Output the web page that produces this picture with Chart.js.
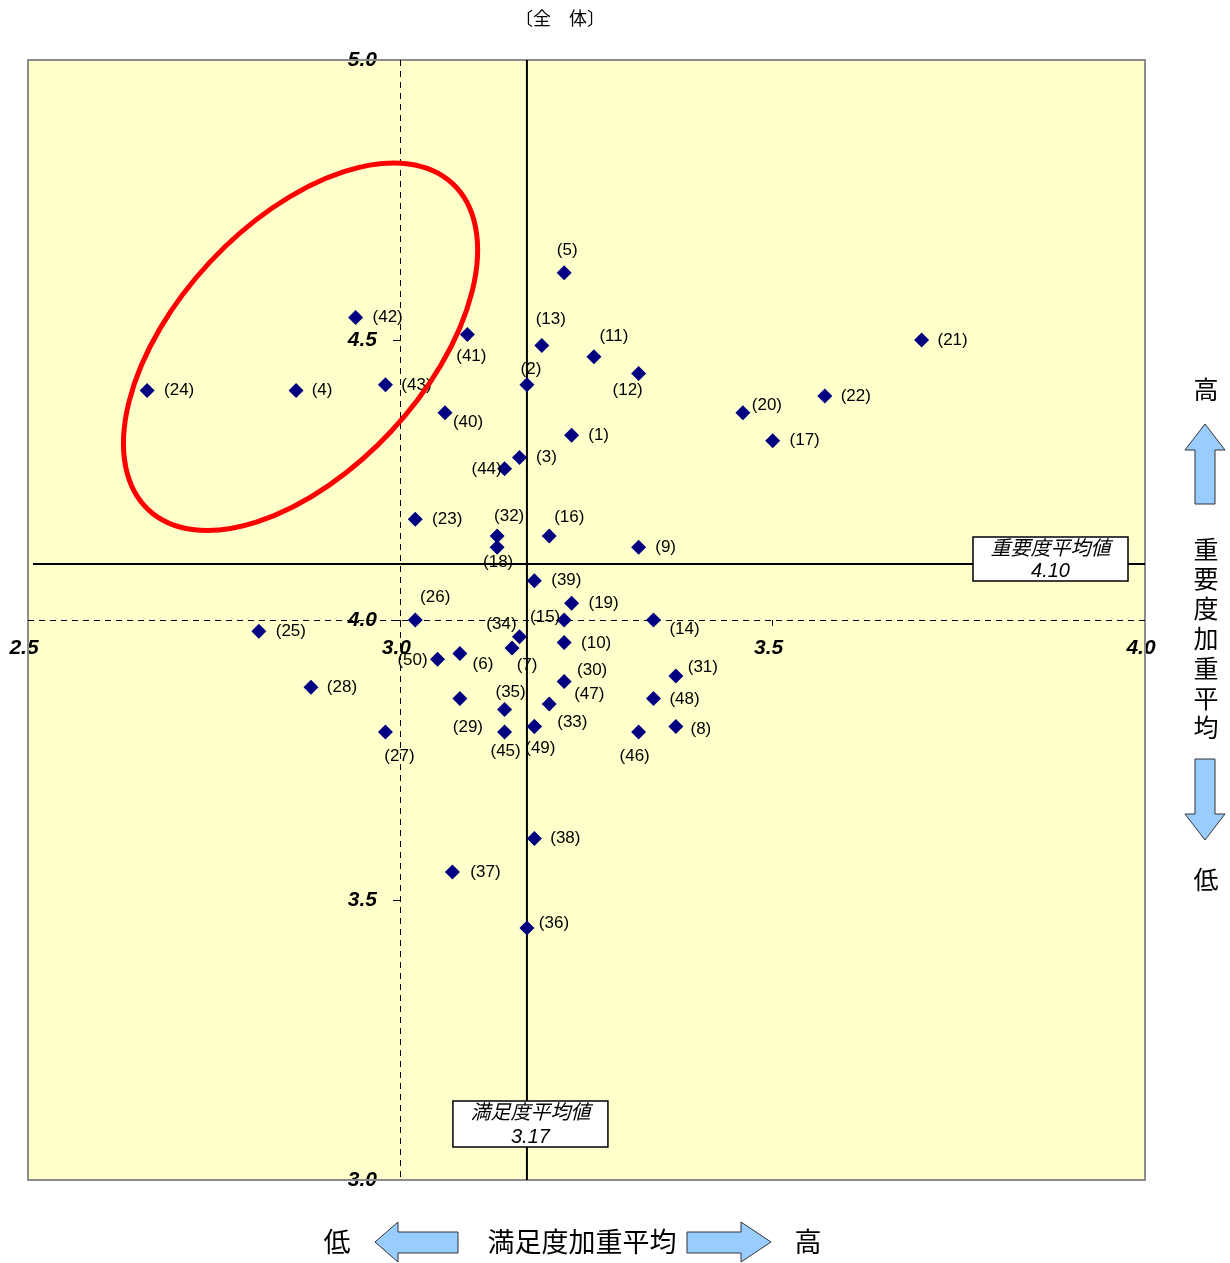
<!DOCTYPE html>
<html lang="ja">
<head>
<meta charset="utf-8">
<title>全体</title>
<script src="https://cdn.jsdelivr.net/npm/chart.js@4.4.1/dist/chart.umd.min.js"></script>
<style>
html,body{margin:0;padding:0;background:#fff;}
#wrap{position:relative;width:1230px;height:1263px;}
</style>
</head>
<body>
<div id="wrap"><canvas id="chart" width="1230" height="1263"></canvas></div>
<script>
/* =========================
   DATA
========================= */

const itemNo = [1,2,3,4,5,6,7,8,9,10,11,12,13,14,15,16,17,18,19,20,21,22,23,24,25,
                26,27,28,29,30,31,32,33,34,35,36,37,38,39,40,41,42,43,44,45,46,47,48,49,50];

// 満足度加重平均 (x)
const satisfaction = [3.23,3.17,3.16,2.86,3.22,3.08,3.15,3.37,3.32,3.22,
                      3.26,3.32,3.19,3.34,3.22,3.20,3.50,3.13,3.23,3.46,
                      3.70,3.57,3.02,2.66,2.81,3.02,2.98,2.88,3.08,3.22,
                      3.37,3.13,3.18,3.16,3.14,3.17,3.07,3.18,3.18,3.06,
                      3.09,2.94,2.98,3.14,3.14,3.32,3.20,3.34,3.18,3.05];

// 重要度加重平均 (y)
const importance = [4.33,4.42,4.29,4.41,4.62,3.94,3.95,3.81,4.13,3.96,
                    4.47,4.44,4.49,4.00,4.00,4.15,4.32,4.13,4.03,4.37,
                    4.50,4.40,4.18,4.41,3.98,4.00,3.80,3.88,3.86,3.89,
                    3.90,4.15,3.81,3.97,3.84,3.45,3.55,3.61,4.07,4.37,
                    4.51,4.54,4.42,4.27,3.80,3.80,3.85,3.86,3.81,3.93];

const xTickValues = [2.5, 3.0, 3.5, 4.0];
const yTickValues = [3.0, 3.5, 4.0, 4.5, 5.0];

// axes cross here
const xCross = 3.0;
const yCross = 4.0;

const satisfactionMean = 3.17;
const importanceMean = 4.10;

/* =========================
   LAYOUT (label nudges, px)
========================= */

const labelNudge = {
    1:[27,0], 2:[4,-15], 3:[27,0], 4:[26,0], 5:[3,-22], 6:[23,11], 7:[15,17], 8:[25,3],
    9:[27,0], 10:[32,1], 11:[20,-20], 12:[-11,17], 13:[9,-26], 14:[31,9], 15:[-19,-3],
    16:[20,-19], 17:[32,0], 18:[1,15], 19:[32,0], 20:[24,-7], 21:[31,0], 22:[31,0],
    23:[32,0], 24:[32,0], 25:[32,0], 26:[20,-23], 27:[14,24], 28:[31,0], 29:[8,29],
    30:[28,-11], 31:[27,-9], 32:[12,-20], 33:[38,-4], 34:[-18,-12], 35:[6,-17],
    36:[27,-5], 37:[33,0], 38:[31,0], 39:[32,0], 40:[23,10], 41:[4,22], 42:[32,0],
    43:[31,1], 44:[-18,1], 45:[1,19], 46:[-4,24], 47:[40,-10], 48:[31,1], 49:[6,22],
    50:[-25,1]
};

const JP = '"Noto Sans CJK JP", sans-serif';
const LAT = '"Liberation Sans", Arial, "Noto Sans CJK JP", sans-serif';

/* =========================
   HELPERS
========================= */

function blockArrow(ctx, pts){
    ctx.beginPath();
    pts.forEach((p,i)=>{ i ? ctx.lineTo(p[0],p[1]) : ctx.moveTo(p[0],p[1]); });
    ctx.closePath();
    ctx.fillStyle = "#99CCFF";
    ctx.fill();
    ctx.strokeStyle = "#333333";
    ctx.lineWidth = 1;
    ctx.stroke();
}

function meanBox(ctx, left, top, w, h, title, value){
    ctx.fillStyle = "#ffffff";
    ctx.fillRect(left, top, w, h);
    ctx.strokeStyle = "#000000";
    ctx.lineWidth = 1.5;
    ctx.strokeRect(left, top, w, h);
    ctx.fillStyle = "#000000";
    ctx.textAlign = "center";
    ctx.textBaseline = "middle";
    ctx.font = "italic 20px " + LAT;
    ctx.fillText(title, left + w/2, top + 12);
    ctx.fillText(value, left + w/2, top + h - 10);
}

/* =========================
   PLUGIN
========================= */

const quadrantPlugin = {
    id: "quadrant",
    beforeDraw(chart){
        const {ctx, chartArea:a} = chart;
        ctx.save();
        ctx.fillStyle = "#FFFFCC";
        ctx.fillRect(a.left, a.top, a.right - a.left, a.bottom - a.top);
        ctx.restore();
    },
    beforeDatasetsDraw(chart){
        const {ctx, chartArea:a, scales} = chart;
        ctx.save();
        // plot frame
        ctx.strokeStyle = "#8c8c8c";
        ctx.lineWidth = 2;
        ctx.strokeRect(a.left, a.top, a.right - a.left, a.bottom - a.top);

        // dashed axis lines where the axes cross
        const ax = Math.round(scales.x.getPixelForValue(xCross)) + 0.5;
        const ay = Math.round(scales.y.getPixelForValue(yCross)) + 0.5;
        ctx.strokeStyle = "#000000";
        ctx.lineWidth = 1;
        ctx.setLineDash([6,5]);
        ctx.beginPath();
        ctx.moveTo(ax, a.top); ctx.lineTo(ax, a.bottom);
        ctx.moveTo(a.left, ay); ctx.lineTo(a.right, ay);
        ctx.stroke();
        ctx.setLineDash([]);

        // mean lines
        ctx.lineWidth = 2;
        const mx = scales.x.getPixelForValue(satisfactionMean);
        const my = scales.y.getPixelForValue(importanceMean);
        ctx.beginPath();
        ctx.moveTo(mx, a.top); ctx.lineTo(mx, a.bottom);
        ctx.moveTo(a.left + 5, my); ctx.lineTo(a.right, my);
        ctx.stroke();
        ctx.restore();
    },
    afterDatasetsDraw(chart){
        const {ctx, chartArea:a, scales} = chart;
        const meta = chart.getDatasetMeta(0);
        ctx.save();

        // point labels
        ctx.fillStyle = "#000000";
        ctx.font = "17px " + LAT;
        ctx.textAlign = "center";
        ctx.textBaseline = "middle";
        meta.data.forEach((pt,i)=>{
            const n = itemNo[i];
            const d = labelNudge[n] || [30,0];
            ctx.fillText("(" + n + ")", pt.x + d[0], pt.y + d[1]);
        });

        // mean value boxes
        const mx = scales.x.getPixelForValue(satisfactionMean);
        const my = scales.y.getPixelForValue(importanceMean);
        meanBox(ctx, a.right - 172, my - 27, 155, 44, "重要度平均値", importanceMean.toFixed(2));
        meanBox(ctx, mx - 74, a.bottom - 79, 155, 46, "満足度平均値", satisfactionMean.toFixed(2));

        // red ellipse
        const ex = scales.x.getPixelForValue(2.866);
        const ey = scales.y.getPixelForValue(4.488);
        ctx.beginPath();
        ctx.ellipse(ex, ey, 223, 124, -47 * Math.PI / 180, 0, Math.PI * 2);
        ctx.strokeStyle = "#FF0000";
        ctx.lineWidth = 5;
        ctx.stroke();

        ctx.restore();
    },
    afterDraw(chart){
        const ctx = chart.ctx;
        ctx.save();
        ctx.fillStyle = "#000000";
        ctx.textAlign = "center";
        ctx.textBaseline = "middle";

        // title
        ctx.font = "18px " + JP;
        ctx.fillText("〔全　体〕", 560, 18);

        // bottom axis caption
        ctx.font = "27px " + JP;
        ctx.fillText("低", 337, 1242);
        ctx.fillText("満足度加重平均", 582, 1242);
        ctx.fillText("高", 808, 1242);
        blockArrow(ctx, [[375,1242],[398,1222],[398,1232],[458,1232],[458,1253],[398,1253],[398,1262]]);
        blockArrow(ctx, [[687,1232],[741,1232],[741,1222],[771,1242],[741,1262],[741,1253],[687,1253]]);

        // right axis caption
        ctx.fillStyle = "#000000";
        ctx.font = "25px " + JP;
        ctx.fillText("高", 1206, 389);
        ctx.fillText("低", 1206, 879);
        "重要度加重平均".split("").forEach((ch,i)=>{
            ctx.fillText(ch, 1206, 549 + i * 29.8);
        });
        blockArrow(ctx, [[1205,424],[1225,450],[1215,450],[1215,504],[1195,504],[1195,450],[1185,450]]);
        blockArrow(ctx, [[1195,759],[1215,759],[1215,814],[1225,814],[1205,840],[1185,814],[1195,814]]);

        ctx.restore();
    }
};

/* =========================
   CHART
========================= */

const tickFont = {family: LAT, size: 21, weight: "bold", style: "italic"};

new Chart(document.getElementById("chart"), {
    type: "scatter",
    data: {
        datasets: [{
            label: "全体",
            data: itemNo.map((n,i)=>({x: satisfaction[i], y: importance[i]})),
            pointStyle: "rectRot",
            pointRadius: 7.5,
            backgroundColor: "#000080",
            borderColor: "#000080",
            borderWidth: 0
        }]
    },
    options: {
        responsive: false,
        animation: false,
        devicePixelRatio: 1,
        events: [],
        layout: {padding: {left: 28, top: 60, right: 85, bottom: 83}},
        plugins: {legend: {display: false}, tooltip: {enabled: false}},
        scales: {
            x: {
                type: "linear",
                min: 2.5, max: 4.0,
                position: {y: yCross},
                afterBuildTicks: s => { s.ticks = xTickValues.map(v => ({value: v})); },
                afterFit: s => { s.height = 0; },
                grid: {drawOnChartArea: false, drawTicks: true, tickLength: 6, color: "#000"},
                border: {display: false},
                ticks: {font: tickFont, color: "#000", padding: 10, labelOffset: -4,
                        maxRotation: 0, autoSkip: false,
                        callback: v => Number(v).toFixed(1)}
            },
            y: {
                type: "linear",
                min: 3.0, max: 5.0,
                position: {x: xCross},
                afterBuildTicks: s => { s.ticks = yTickValues.map(v => ({value: v})); },
                afterFit: s => { s.width = 0; },
                grid: {drawOnChartArea: false, drawTicks: true, tickLength: 7, color: "#000"},
                border: {display: false},
                // labels sit flush on a positioned axis, so pad them with trailing spaces
                ticks: {font: tickFont, color: "#000", autoSkip: false,
                        callback: v => Number(v).toFixed(1) + "    "}
            }
        }
    },
    plugins: [quadrantPlugin]
});
</script>
</body>
</html>
